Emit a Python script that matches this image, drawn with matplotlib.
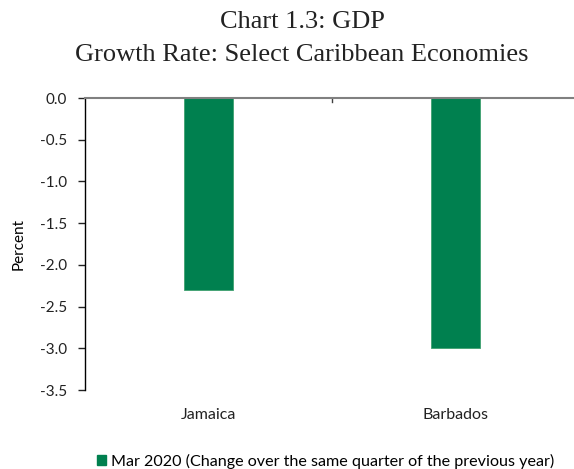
import matplotlib.pyplot as plt
from matplotlib.patches import Patch

# GDP growth, Mar 2020 (y-o-y, percent)
countries = ['Jamaica', 'Barbados']
growth = [-2.3, -3.0]
yticks = [0.0, -0.5, -1.0, -1.5, -2.0, -2.5, -3.0, -3.5]
series_name = 'Mar 2020 (Change over the same quarter of the previous year)'

green = '#00804F'
plt.rcParams['font.family'] = ['Lato', 'DejaVu Sans']

fig = plt.figure(figsize=(5.74, 4.69), dpi=100)
ax = fig.add_axes([85 / 574, 1 - 390 / 469, 494 / 574, 292 / 469])

x = range(len(countries))
ax.bar(x, growth, width=0.2, color=green, edgecolor='#3fa070', linewidth=0.6)

ax.set_xlim(-0.5, len(countries) - 0.5)
ax.set_ylim(-3.5, 0.0)
ax.set_yticks(yticks)
ax.set_yticklabels(['%.1f' % v for v in yticks], fontsize=11)
ax.set_xticks([])

# category labels sit below the plot area, the zero line forms the top edge
for i, name in enumerate(countries):
    ax.text(i, -3.72, name, ha='center', va='top', fontsize=11.5,
            color='#222222')

ax.spines['right'].set_visible(False)
ax.spines['bottom'].set_visible(False)
ax.spines['top'].set_color('#808080')
ax.spines['top'].set_linewidth(1.5)
ax.spines['left'].set_color('black')
ax.spines['left'].set_linewidth(1.0)
ax.tick_params(axis='y', length=5, width=1, pad=8, colors='#222222')

# divider tick between the categories on the zero line
ax.plot([0.5, 0.5], [0.0, -0.05], color='#404040', lw=1, clip_on=False)

ax.set_ylabel('Percent', fontsize=11, labelpad=10)

title_kw = dict(ha='center', va='center', fontsize=19,
                family='Liberation Serif', color='#222222')
fig.text(302 / 574, 1 - 22 / 469, 'Chart 1.3: GDP', **title_kw)
fig.text(302 / 574, 1 - 55 / 469, 'Growth Rate: Select Caribbean Economies',
         **title_kw)

fig.legend(handles=[Patch(color=green, label=series_name)],
           loc='center left', bbox_to_anchor=(87 / 574, 1 - 461 / 469),
           frameon=False, fontsize=11.6, handlelength=0.6, handleheight=0.6,
           handletextpad=0.3, borderaxespad=0.2)

fig.savefig('out.png', dpi=100)
